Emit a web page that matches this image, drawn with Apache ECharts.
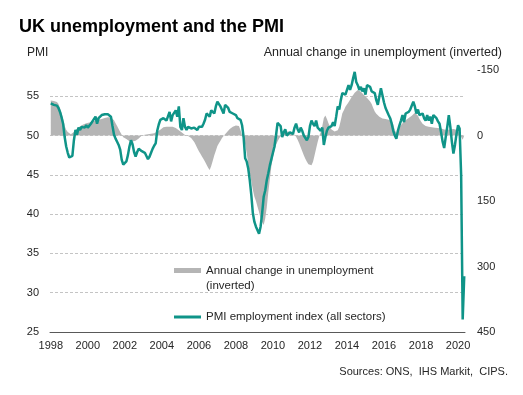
<!DOCTYPE html>
<html><head><meta charset="utf-8">
<script src="https://cdn.jsdelivr.net/npm/echarts@6/dist/echarts.min.js"></script>
<style>html,body{margin:0;padding:0;background:#fff}#c{width:523px;height:395px}</style>
</head><body><div id="c"></div>
<script>
// Monthly data, Jan 1998 .. May 2020
const startYear = 1998;
const pmiName = 'PMI employment index (all sectors)';
const unempName = 'Annual change in unemployment\n(inverted)';
const pmi = [
  54.1, 54.0, 53.9, 54.0, 53.8, 53.5, 53.0, 52.3, 51.5, 49.8, 48.6, 47.8, // 1998
  47.2, 47.0, 47.4, 49.4, 50.7, 50.1, 51.0, 50.7, 51.1, 51.2, 51.0, 51.3, // 1999
  51.0, 51.2, 51.5, 51.8, 52.0, 52.4, 51.5, 52.2, 52.3, 52.6, 52.5, 52.7, // 2000
  52.6, 52.7, 52.5, 52.4, 51.2, 50.1, 49.6, 49.2, 48.8, 48.2, 46.9, 46.3, // 2001
  46.4, 46.7, 47.5, 48.6, 49.4, 48.9, 47.9, 47.3, 47.9, 48.3, 48.1, 48.0, // 2002
  48.2, 47.8, 47.4, 47.0, 47.3, 47.8, 48.3, 48.7, 49.0, 50.6, 51.4, 52.0, // 2003
  52.0, 52.2, 52.1, 51.9, 52.0, 53.0, 51.8, 52.6, 52.4, 53.2, 52.4, 53.7, // 2004
  51.1, 50.7, 52.2, 51.1, 50.7, 51.1, 51.0, 50.9, 50.8, 51.0, 51.1, 50.7, // 2005
  51.1, 50.9, 51.1, 51.5, 52.0, 52.8, 53.0, 52.4, 53.2, 53.0, 52.8, 53.7, // 2006
  54.3, 54.1, 53.7, 53.9, 52.8, 53.9, 53.7, 53.5, 53.0, 53.2, 52.8, 52.7, // 2007
  52.6, 52.2, 52.1, 52.0, 51.3, 49.8, 47.1, 46.7, 45.8, 44.3, 42.4, 40.1, // 2008
  39.0, 38.4, 38.2, 37.5, 38.4, 40.1, 42.2, 43.0, 44.3, 45.2, 46.2, 47.0, // 2009
  47.8, 48.6, 50.0, 51.6, 51.5, 51.2, 49.8, 50.4, 50.8, 50.0, 50.2, 50.4, // 2010
  50.6, 50.2, 51.0, 51.5, 50.8, 50.4, 51.0, 50.6, 50.0, 50.2, 49.4, 49.8, // 2011
  51.2, 51.9, 51.5, 51.2, 51.9, 51.0, 50.8, 50.6, 51.0, 48.8, 49.8, 50.6, // 2012
  51.0, 50.8, 51.2, 51.7, 51.2, 52.4, 53.7, 53.3, 54.5, 55.4, 55.6, 55.2, // 2013
  55.8, 56.4, 55.8, 56.4, 57.3, 58.1, 56.8, 56.4, 55.8, 56.2, 55.6, 56.0, // 2014
  55.2, 56.4, 56.6, 56.2, 55.6, 55.8, 55.4, 54.5, 53.9, 55.0, 56.0, 56.0, // 2015
  54.2, 53.5, 53.7, 52.6, 52.2, 51.5, 50.6, 50.0, 49.6, 50.6, 51.3, 51.9, // 2016
  52.6, 51.7, 52.8, 52.6, 53.0, 53.3, 53.5, 54.3, 53.7, 52.8, 53.3, 52.6, // 2017
  52.7, 52.8, 52.2, 51.9, 52.6, 51.9, 52.4, 51.5, 52.6, 52.8, 52.2, 51.8, // 2018
  51.5, 50.4, 49.2, 48.4, 49.8, 51.1, 52.6, 51.1, 49.2, 47.7, 48.8, 50.2, // 2019
  51.3, 50.9, 45.0, 26.6, 32.1                                            // 2020
];
// Annual change in unemployment (thousands), plotted on an inverted axis
const unempChange = [
  -80, -80, -79, -78, -77, -72, -62, -51, -38, -22, -13, -8,   // 1998
  -5, -3, -4, -8, -12, -16, -19, -21, -23, -25, -27, -28,      // 1999
  -29, -30, -31, -32, -33, -34, -35, -36, -37, -38, -39, -40,  // 2000
  -41, -42, -42, -41, -40, -35, -28, -22, -15, -8, -2, 4,      // 2001
  5, 8, 11, 13, 14, 14, 13, 12, 10, 7, 3, 0,                   // 2002
  -1, -2, -3, -3, -4, -4, -4, -5, -7, -9, -11, -13,            // 2003
  -17, -19, -20, -20, -20, -20, -20, -20, -19, -17, -15, -12,  // 2004
  -10, -7, -4, -1, 0, 1, 3, 6, 10, 15, 22, 29,                 // 2005
  36, 42, 48, 54, 60, 67, 74, 79, 70, 58, 45, 35,              // 2006
  24, 18, 12, 6, 1, -3, -7, -11, -15, -18, -20, -22,           // 2007
  -23, -24, -22, -12, 0, 8, 20, 40, 65, 86, 105, 125,          // 2008
  140, 150, 163, 175, 190, 198, 205, 190, 165, 130, 100, 70,   // 2009
  50, 35, 22, 14, 7, 2, -3, -6, -8, -9, -9, -8,                // 2010
  -7, -5, -2, 3, 10, 18, 27, 36, 45, 53, 60, 66,               // 2011
  70, 68, 60, 45, 30, 15, 2, -8, -22, -40, -46, -38,           // 2012
  -28, -20, -14, -10, -9, -10, -12, -20, -35, -51, -58, -66,   // 2013
  -70, -76, -82, -88, -93, -98, -102, -104, -103, -100, -97, -93, // 2014
  -90, -86, -82, -78, -72, -63, -55, -50, -47, -43, -40, -39,  // 2015
  -38, -38, -37, -36, -35, -32, -26, -12, -6, -12, -20, -24,   // 2016
  -28, -32, -35, -38, -40, -42, -45, -48, -52, -50, -45, -38,  // 2017
  -32, -27, -24, -22, -21, -20, -20, -19, -18, -18, -17, -17,  // 2018
  -16, -16, -15, -14, -13, -13, -13, -14, -15, -15, -14, -13,  // 2019
  -10, -5, 3, 10, 12                                           // 2020
];
const months = pmi.map((_, i) => {
  const y = startYear + Math.floor(i / 12);
  const m = (i % 12) + 1;
  return y + '-' + (m < 10 ? '0' + m : m);
});
const pmiAxis = { min: 25, max: 175 / 3, interval: 5 };
const unempAxis = { min: -150, max: 450, interval: 150 };

const FONT = '"Liberation Sans", Arial, sans-serif';
const TXT = '#262626';
const GREY = '#b5b5b5';
const TEAL = '#0f9488';
const chart = echarts.init(document.getElementById('c'), null, { renderer: 'canvas' });
chart.setOption({
  animation: false,
  backgroundColor: '#fff',
  textStyle: { fontFamily: FONT },
  grid: { left: 50, right: 58, top: 70, bottom: 63, containLabel: false },
  xAxis: {
    type: 'category', data: months, boundaryGap: true,
    axisLine: { onZero: false, lineStyle: { color: '#595959', width: 1 } },
    axisTick: { interval: (i) => i % 12 === 0, length: 3, lineStyle: { color: '#595959' } },
    axisLabel: { interval: (i) => i % 24 === 0, formatter: (v) => v.slice(0, 4),
      fontSize: 11, color: TXT, margin: 8, fontFamily: FONT },
    splitLine: { show: false }
  },
  yAxis: [
    { type: 'value', min: pmiAxis.min, max: pmiAxis.max, interval: pmiAxis.interval,
      axisLine: { show: false }, axisTick: { show: false },
      axisLabel: { fontSize: 11, color: TXT, margin: 11, showMaxLabel: false, fontFamily: FONT },
      splitLine: { show: true, showMinLine: false, showMaxLine: false,
        lineStyle: { type: [3, 2], color: '#c4c4c4', width: 1 } } },
    { type: 'value', inverse: true, min: unempAxis.min, max: unempAxis.max, interval: unempAxis.interval,
      axisLine: { show: false }, axisTick: { show: false },
      axisLabel: { fontSize: 11, color: TXT, margin: 12, fontFamily: FONT },
      splitLine: { show: false } }
  ],
  legend: [
    { data: [{ name: unempName, icon: 'rect', itemStyle: { color: GREY } }], left: 174, top: 248, padding: 0,
      itemWidth: 27, itemHeight: 5,
      formatter: (n) => ' \n' + n,
      textStyle: { fontSize: 11.5, color: TXT, lineHeight: 15, fontFamily: FONT } },
    { data: [{ name: pmiName, icon: 'rect' }], left: 174, top: 311, padding: 0,
      itemWidth: 27, itemHeight: 3,
      textStyle: { fontSize: 11.5, color: TXT, fontFamily: FONT } }
  ],
  series: [
    { name: unempName, type: 'line', yAxisIndex: 1, data: unempChange, showSymbol: false, symbol: 'none',
      lineStyle: { width: 0, color: GREY }, itemStyle: { color: GREY },
      areaStyle: { color: GREY, opacity: 1, origin: 0 }, z: 1 },
    { name: pmiName, type: 'line', yAxisIndex: 0, data: pmi, showSymbol: false, symbol: 'none',
      lineStyle: { color: TEAL, width: 2.5 }, itemStyle: { color: TEAL }, z: 3 }
  ],
  graphic: [
    { type: 'text', left: 19, top: 18, style: { text: 'UK unemployment and the PMI',
      font: 'bold 18px ' + FONT, fill: '#000' } },
    { type: 'text', style: { x: 27, y: 53, text: 'PMI', font: '12px ' + FONT, fill: TXT,
      verticalAlign: 'middle' } },
    { type: 'text', style: { x: 502, y: 53, text: 'Annual change in unemployment (inverted)',
      font: '12.5px ' + FONT, fill: TXT, align: 'right', verticalAlign: 'middle' } },
    { type: 'text', style: { x: 508, y: 372, text: 'Sources: ONS,  IHS Markit,  CIPS.',
      font: '11px ' + FONT, fill: TXT, align: 'right', verticalAlign: 'middle' } }
  ]
});
</script></body></html>
